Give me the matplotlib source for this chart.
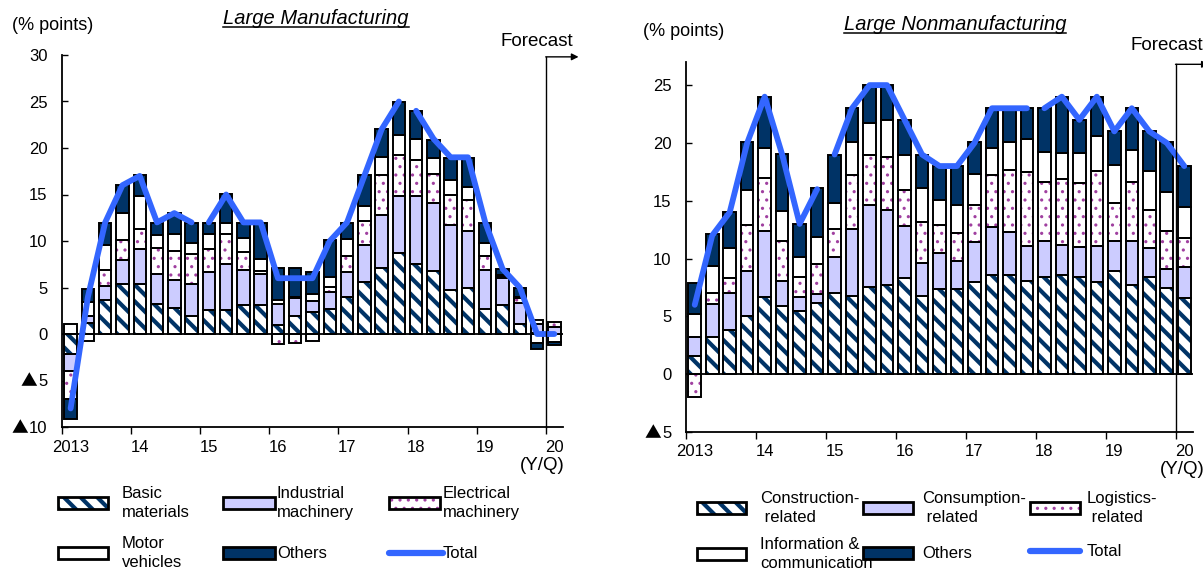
import matplotlib
matplotlib.use("Agg")
import matplotlib.pyplot as plt
import numpy as np
from matplotlib.patches import Rectangle
from matplotlib.lines import Line2D

W, H = 1203, 576

year_labels = ["2013", "14", "15", "16", "17", "18", "19", "20"]

# Large manufacturing, 2013Q1 - 2020Q1 (contributions, % points)
mfg_basic = [-2.2, 1.2, 3.7, 5.4, 5.4, 3.2, 2.8, 1.9, 2.6, 2.6, 3.1, 3.1, 1.0, 1.9, 2.4,
             2.7, 4.0, 5.6, 7.1, 8.7, 7.5, 6.8, 4.7, 5.0, 2.7, 3.1, 1.1, 0.1, 0.0]
mfg_industrial = [-1.8, 0.7, 1.5, 2.6, 3.7, 3.3, 3.0, 3.5, 4.1, 4.9, 3.8, 3.3, 2.2, 2.0, 1.2,
                  1.8, 2.7, 4.0, 5.7, 6.1, 7.3, 7.3, 7.0, 6.1, 4.2, 2.9, 2.2, 1.0, 0.8]
mfg_electrical = [-3.0, -0.8, 1.7, 2.1, 2.2, 2.8, 3.1, 3.2, 2.4, 3.3, 1.9, 0.4, -1.1, -1.0, -0.7,
                  0.6, 1.7, 2.6, 4.3, 4.4, 3.9, 3.1, 3.2, 3.3, 1.5, 0.1, 0.6, 0.4, 0.5]
mfg_motor = [1.1, 1.5, 2.7, 2.9, 3.5, 1.3, 1.8, 1.2, 1.6, 1.1, 1.5, 1.3, 0.5, 0.1, 0.7,
             1.0, 1.8, 1.6, 1.9, 2.2, 2.3, 1.7, 1.7, 1.4, 1.4, 0.2, 0.1, -1.0, -0.9]
mfg_others = [-2.1, 1.4, 2.3, 3.0, 2.3, 1.3, 2.3, 2.1, 1.2, 3.2, 1.6, 3.8, 3.4, 3.1, 2.4,
              4.0, 1.7, 3.3, 3.0, 3.5, 3.0, 2.0, 2.3, 3.1, 2.1, 0.7, 1.0, -0.6, -0.3]
mfg_total = [-8, 4, 12, 16, 17, 12, 13, 12, 12, 15, 12, 12, 6, 6, 6,
             10, 12, 17, 22, 25, 24, 21, 19, 19, 12, 7, 5, 0, 0]

# Large nonmanufacturing
non_construction = [1.6, 3.25, 3.8, 5.0, 6.7, 5.9, 5.5, 6.2, 7.0, 6.8, 7.5, 7.7, 8.3, 6.8, 7.4,
                    7.4, 8.0, 8.55, 8.55, 8.1, 8.4, 8.55, 8.4, 8.0, 8.9, 7.7, 8.4, 7.45, 6.6]
non_consumption = [1.65, 2.8, 3.2, 3.9, 5.7, 2.2, 1.2, 0.7, 3.1, 5.8, 7.1, 6.5, 4.5, 2.8, 3.1,
                   2.4, 3.4, 4.15, 3.75, 3.0, 3.1, 2.65, 2.6, 3.1, 2.6, 3.8, 2.5, 1.65, 2.7]
non_logistics = [-2.0, 1.0, 1.3, 4.0, 4.6, 3.4, 1.7, 2.6, 2.5, 4.6, 4.4, 4.6, 3.1, 3.6, 2.4,
                 2.4, 3.2, 4.5, 5.4, 6.4, 5.1, 5.7, 5.5, 6.5, 3.3, 5.1, 3.3, 3.3, 2.5]
non_info = [1.95, 2.3, 2.6, 3.0, 2.6, 2.6, 1.7, 2.4, 2.2, 2.9, 2.7, 3.2, 3.1, 2.9, 2.2,
            2.4, 2.7, 2.4, 2.4, 2.8, 2.6, 2.2, 2.6, 3.0, 3.3, 2.8, 3.4, 3.4, 2.7]
non_others = [2.7, 2.8, 3.1, 4.2, 4.4, 4.9, 2.9, 4.2, 4.2, 2.9, 3.3, 3.0, 3.0, 2.9, 2.9,
              3.4, 2.8, 3.4, 2.9, 2.7, 3.8, 4.9, 2.9, 3.4, 2.9, 3.6, 3.4, 4.3, 3.5]
non_total = [6, 12, 14, 20, 24, 19, 13, 16, 19, 23, 25, 25, 22, 19, 18,
             18, 20, 23, 23, 23, 23, 24, 22, 24, 21, 23, 21, 20, 18]

# the total line is broken where the survey sample was revised
segments = [(0, 8), (8, 20), (20, 29)]

NAVY = "#003366"
LAVENDER = "#CCCCFF"
PURPLE = "#A040A0"
BLUE = "#3366FF"

# face colour, hatch colour, hatch, hatch line width
styles = [("white", NAVY, "\\\\", 3.0),
          (LAVENDER, LAVENDER, None, 1.0),
          ("white", PURPLE, "..", 1.1),
          ("white", "white", None, 1.0),
          (NAVY, NAVY, None, 1.0)]

plt.rcParams["font.family"] = ["Liberation Sans", "DejaVu Sans"]
plt.rcParams["font.size"] = 12

fig = plt.figure(figsize=(W / 100, H / 100), dpi=100)


def fx(px):
    return px / W


def fy(py):
    return 1 - py / H


def draw_panel(ax, series, total, ymin, ymax, yticks):
    x = np.arange(len(total))
    pos = np.zeros(len(x))
    neg = np.zeros(len(x))
    for vals, (face, hc, hatch, hlw) in zip(series, styles):
        v = np.array(vals, float)
        bottom = np.where(v >= 0, pos, neg)
        with plt.rc_context({"hatch.linewidth": hlw}):
            ax.bar(x, v, 0.72, bottom=bottom, color=face, edgecolor=hc, hatch=hatch,
                   linewidth=0, zorder=2)
        ax.bar(x, v, 0.72, bottom=bottom, fill=False, edgecolor="black",
               linewidth=1.4, zorder=3)
        pos = pos + np.where(v >= 0, v, 0)
        neg = neg + np.where(v < 0, v, 0)
    t = np.array(total, float)
    for a, b in segments:
        ax.plot(x[a:b], t[a:b], color=BLUE, lw=4.2, solid_capstyle="round",
                solid_joinstyle="round", zorder=5)
    ax.axhline(0, color="black", lw=1.3, zorder=4)
    ax.set_xlim(-0.5, len(x) - 0.5)
    ax.set_ylim(ymin, ymax)
    ax.set_yticks(yticks)
    ax.set_yticklabels([str(abs(v)) for v in yticks])
    ax.tick_params(axis="y", direction="in", length=4, width=1, pad=10.5)
    ax.set_xticks(np.arange(-0.5, len(x), 4))
    ax.set_xticklabels([])
    ax.tick_params(axis="x", direction="out", length=5, width=1)
    ax.set_xticks(np.arange(0, len(x), 4), year_labels, minor=True)
    ax.tick_params(axis="x", which="minor", length=0, pad=9)
    for s in ["top", "right"]:
        ax.spines[s].set_visible(False)
    for s in ["left", "bottom"]:
        ax.spines[s].set_linewidth(1.3)
    # forecast marker
    ax.plot([27.5, 27.5], [ymin, ymax - 0.2], color="black", lw=1, clip_on=False, zorder=6)
    ax.annotate("", xy=(29.4, ymax - 0.2), xytext=(27.5, ymax - 0.2),
                arrowprops=dict(arrowstyle="-|>", lw=1, color="black", mutation_scale=10,
                                shrinkA=0, shrinkB=0),
                annotation_clip=False)


ax1 = fig.add_axes([fx(62), fy(427), fx(563 - 62), (427 - 55) / H])
draw_panel(ax1, [mfg_basic, mfg_industrial, mfg_electrical, mfg_motor, mfg_others],
           mfg_total, -10, 30, list(range(-10, 31, 5)))

ax2 = fig.add_axes([fx(686), fy(432), fx(1193 - 686), (432 - 62) / H])
draw_panel(ax2, [non_construction, non_consumption, non_logistics, non_info, non_others],
           non_total, -5, 27, list(range(-5, 26, 5)))

# titles and axis notes
titles = [fig.text(fx(316), fy(18), "Large Manufacturing", ha="center", va="center",
                   style="italic", fontsize=14.5),
          fig.text(fx(955), fy(24), "Large Nonmanufacturing", ha="center", va="center",
                   style="italic", fontsize=14.5)]
fig.text(fx(12), fy(26), "(% points)", ha="left", va="center", fontsize=13)
fig.text(fx(643), fy(32), "(% points)", ha="left", va="center", fontsize=13)
fig.text(fx(500), fy(41), "Forecast", ha="left", va="center", fontsize=13.5)
fig.text(fx(1131), fy(45), "Forecast", ha="left", va="center", fontsize=13.5)
fig.text(fx(520), fy(466), "(Y/Q)", ha="left", va="center", fontsize=13.5)
fig.text(fx(1160), fy(470), "(Y/Q)", ha="left", va="center", fontsize=13.5)

fig.canvas.draw()
r = fig.canvas.get_renderer()
for t in titles:
    bb = t.get_window_extent(r)
    yline = bb.y0 + 1
    fig.add_artist(Line2D([bb.x0 / W, bb.x1 / W], [yline / H, yline / H],
                          color="black", lw=1.1, transform=fig.transFigure))

# full-width triangle marks negative tick values
for ax in (ax1, ax2):
    for v, lab in zip(ax.get_yticks(), ax.get_yticklabels()):
        if v < 0:
            bb = lab.get_window_extent(r)
            fig.text((bb.x0 - 1) / W, (bb.y0 + bb.y1) / 2 / H, "\u25b2", ha="right",
                     va="center", fontsize=12, family=["Noto Sans CJK JP", "DejaVu Sans"])


# legends drawn by hand
def legend_patch(x0, x1, yc, style):
    face, hc, hatch, hlw = style
    h = 12
    with plt.rc_context({"hatch.linewidth": hlw}):
        fig.add_artist(Rectangle((fx(x0), fy(yc + h / 2)), fx(x1 - x0), h / H, facecolor=face,
                                 edgecolor=hc, hatch=hatch, linewidth=0,
                                 transform=fig.transFigure))
    fig.add_artist(Rectangle((fx(x0), fy(yc + h / 2)), fx(x1 - x0), h / H, fill=False,
                             edgecolor="black", linewidth=2.0, transform=fig.transFigure))


def legend_line(x0, x1, yc):
    fig.add_artist(Line2D([fx(x0), fx(x1)], [fy(yc), fy(yc)], color=BLUE, lw=4.5,
                          solid_capstyle="round", transform=fig.transFigure))


mfg_legend = [("Basic\nmaterials", 58, 108, 122, 503, 0),
              ("Industrial\nmachinery", 223, 275, 277, 503, 1),
              ("Electrical\nmachinery", 389, 440, 443, 503, 2),
              ("Motor\nvehicles", 58, 108, 122, 553, 3),
              ("Others", 223, 275, 277, 553, 4),
              ("Total", 389, 443, 443, 553, None)]
non_legend = [("Construction-\n related", 697, 746, 760, 508, 0),
              ("Consumption-\n related", 863, 913, 922, 508, 1),
              ("Logistics-\n related", 1030, 1080, 1087, 508, 2),
              ("Information &\ncommunication", 697, 746, 760, 554, 3),
              ("Others", 863, 913, 922, 553, 4),
              ("Total", 1030, 1080, 1087, 551, None)]

for label, x0, x1, tx, yc, si in mfg_legend + non_legend:
    if si is None:
        legend_line(x0, x1, yc)
    else:
        legend_patch(x0, x1, yc, styles[si])
    fig.text(fx(tx), fy(yc), label, ha="left", va="center", linespacing=1.35, fontsize=12)

fig.savefig("out.png", dpi=100)
